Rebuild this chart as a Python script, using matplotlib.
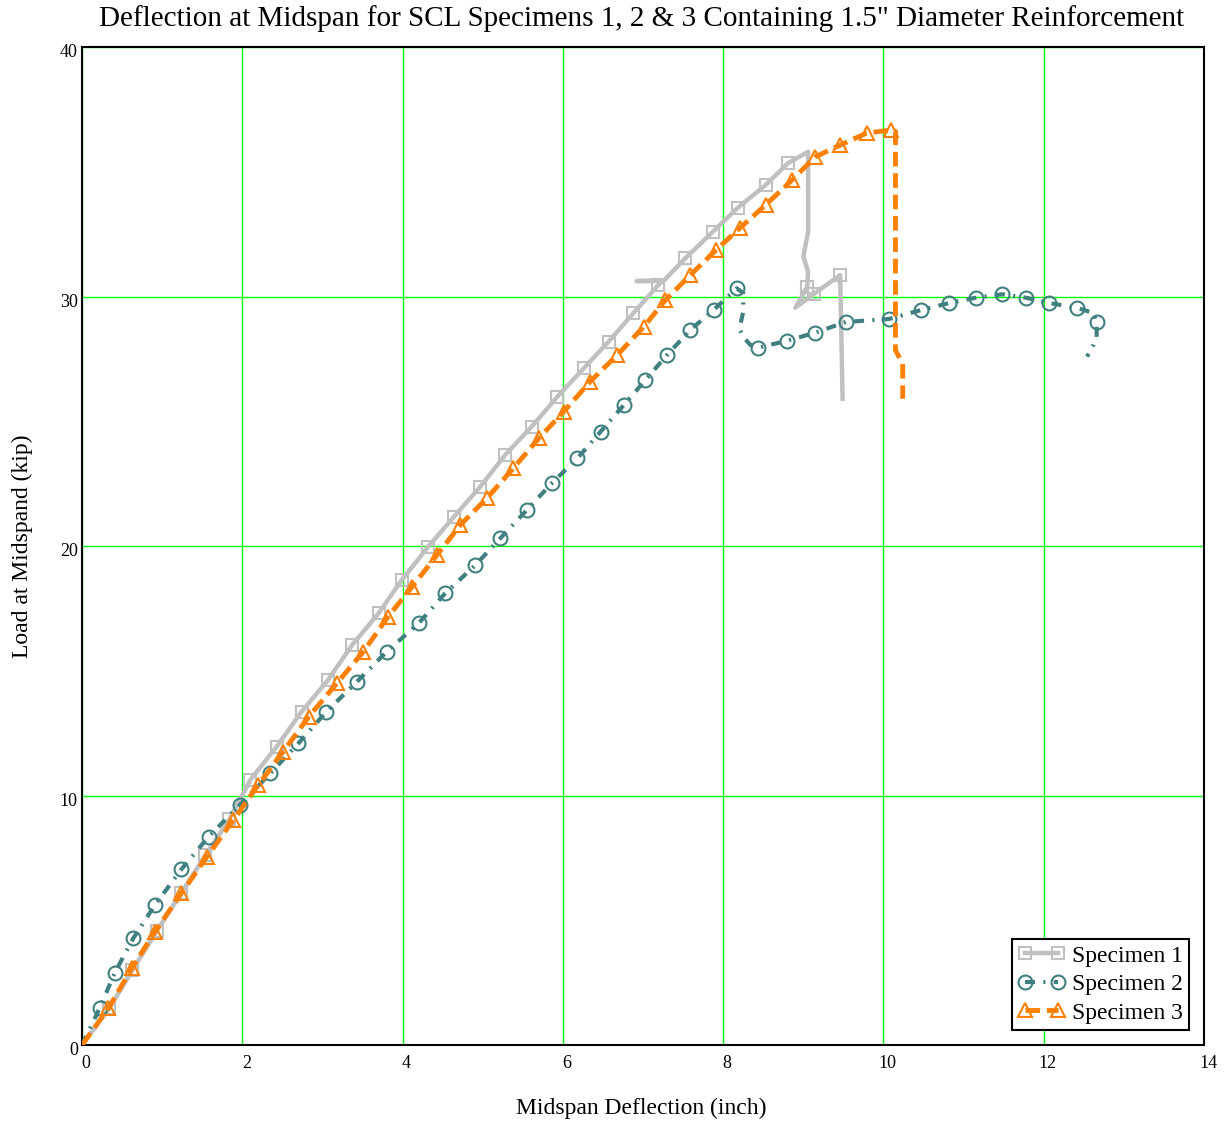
import numpy as np
import matplotlib
matplotlib.use("Agg")
import matplotlib.pyplot as plt
from matplotlib.transforms import ScaledTranslation

plt.rcParams['font.family'] = ['Liberation Serif', 'DejaVu Serif']

# Specimen 1 (gray squares) - deflection (inch) / load (kip)
s1_x = [0.0, 0.34, 0.63, 0.93, 1.24, 1.54, 1.84, 2.10, 2.43, 2.74, 3.07, 3.37, 3.70, 3.99,
        4.32, 4.64, 4.97, 5.28, 5.61, 5.93, 6.26, 6.57, 6.88, 7.19, 7.24, 6.92, 7.26,
        7.53, 7.87, 8.18, 8.53, 8.81, 9.06, 9.06, 9.00, 9.06, 9.05, 8.90, 9.13, 9.46, 9.49]
s1_y = [0.0, 1.47, 3.00, 4.55, 6.10, 7.60, 9.05, 10.62, 11.96, 13.36, 14.63, 16.03, 17.30, 18.64,
        19.97, 21.17, 22.38, 23.65, 24.78, 25.98, 27.12, 28.19, 29.33, 30.46, 30.62, 30.62, 30.64,
        31.54, 32.59, 33.55, 34.47, 35.35, 35.80, 32.60, 31.60, 31.00, 30.40, 29.55, 30.10, 30.86, 25.90]
s1_marks = list(range(1, 24)) + list(range(27, 32)) + [36, 38, 39]

# Specimen 2 (teal circles)
s2_x = [0.0, 0.22, 0.41, 0.64, 0.91, 1.24, 1.58, 1.97, 2.35, 2.70, 3.05, 3.43, 3.80, 4.20,
        4.53, 4.91, 5.22, 5.55, 5.86, 6.18, 6.47, 6.76, 7.03, 7.30, 7.59, 7.88, 8.17,
        8.25, 8.25, 8.25, 8.22, 8.21, 8.25, 8.34, 8.44, 8.80, 9.15, 9.53, 10.07, 10.47,
        10.82, 11.15, 11.48, 11.78, 12.07, 12.42, 12.62, 12.66, 12.66, 12.62, 12.54]
s2_y = [0.0, 1.47, 2.90, 4.28, 5.61, 7.04, 8.35, 9.62, 10.89, 12.09, 13.36, 14.56, 15.76, 16.90,
        18.10, 19.24, 20.31, 21.44, 22.51, 23.51, 24.58, 25.65, 26.65, 27.66, 28.66, 29.46, 30.33,
        30.14, 29.74, 29.39, 28.94, 28.66, 28.38, 28.06, 27.95, 28.23, 28.55, 28.98, 29.10, 29.46,
        29.74, 29.95, 30.09, 29.95, 29.74, 29.54, 29.34, 28.98, 28.38, 28.06, 27.59]
s2_marks = list(range(1, 27)) + list(range(34, 46)) + [47]

# Specimen 3 (orange triangles)
s3_x = [0.0, 0.33, 0.62, 0.91, 1.24, 1.56, 1.89, 2.20, 2.51, 2.83, 3.18, 3.51, 3.82, 4.12,
        4.43, 4.72, 5.05, 5.38, 5.70, 6.01, 6.34, 6.68, 7.01, 7.28, 7.59, 7.91, 8.21,
        8.53, 8.86, 9.15, 9.46, 9.79, 10.09, 10.15, 10.15, 10.24, 10.24]
s3_y = [0.0, 1.47, 3.07, 4.54, 6.08, 7.55, 9.02, 10.42, 11.76, 13.16, 14.50, 15.76, 17.17, 18.37,
        19.64, 20.84, 21.91, 23.11, 24.32, 25.38, 26.59, 27.66, 28.79, 29.86, 30.86, 31.86, 32.75,
        33.67, 34.67, 35.60, 36.07, 36.55, 36.67, 36.62, 27.85, 27.30, 25.90]
s3_marks = list(range(1, 33))

fig = plt.figure(figsize=(12.27, 11.25), dpi=100)
ax = fig.add_axes([0.0668, 0.0711, 0.9145, 0.8871])

ax.plot(s1_x, s1_y, color='#C0C0C0', lw=3.2, ls='-', marker='s', markersize=8,
        markerfacecolor='none', markeredgecolor='#C0C0C0', markeredgewidth=1.5,
        markevery=s1_marks, label='Specimen 1', zorder=3)
ax.plot(s2_x, s2_y, color='#408080', lw=3.0, ls=(0, (2.4, 2.0, 0.5, 2.0)), marker='o', markersize=10,
        markerfacecolor='none', markeredgecolor='#408080', markeredgewidth=1.5,
        markevery=s2_marks, label='Specimen 2', zorder=4)
ax.plot(s3_x, s3_y, color='#FF8000', lw=3.5, ls=(0, (3.0, 1.4)), marker='^', markersize=10,
        markerfacecolor='none', markeredgecolor='#FF8000', markeredgewidth=1.5,
        markevery=s3_marks, label='Specimen 3', zorder=5)

ax.set_xlim(0, 14)
ax.set_ylim(0, 40)
ax.set_xticks(np.arange(0, 15, 2))
ax.set_yticks(np.arange(0, 41, 10))
ax.grid(True, color='#00FF00', lw=1.0)
ax.set_axisbelow(True)
ax.tick_params(length=0, labelsize=13, pad=3)
ax.tick_params(axis='x', pad=7)
for sp in ax.spines.values():
    sp.set_linewidth(1.5)
    sp.set_color('black')

# labels in the original sit a few pixels right / below the grid lines
for lab in ax.get_xticklabels():
    lab.set_transform(lab.get_transform() + ScaledTranslation(0.04, 0, fig.dpi_scale_trans))
for lab in ax.get_yticklabels():
    lab.set_transform(lab.get_transform() + ScaledTranslation(0, -0.035, fig.dpi_scale_trans))

fig.text(0.523, 1 - 19 / 1125, 'Deflection at Midspan for SCL Specimens 1, 2 & 3 Containing 1.5" Diameter Reinforcement',
         ha='center', va='center', fontsize=21)
fig.text(0.523, 1 - 1108 / 1125, 'Midspan Deflection (inch)', ha='center', va='center', fontsize=17)
fig.text(22 / 1227, 1 - 546 / 1125, 'Load at Midspand (kip)', ha='center', va='center',
         rotation=90, fontsize=17)

leg = ax.legend(loc='lower right', fontsize=17, numpoints=2, handlelength=2.0,
                fancybox=False, framealpha=1, borderaxespad=0.65, handletextpad=0.3,
                borderpad=0.25, labelspacing=0.3)
leg.get_frame().set_edgecolor('black')
leg.get_frame().set_linewidth(1.5)

fig.savefig('out.png', dpi=100)
